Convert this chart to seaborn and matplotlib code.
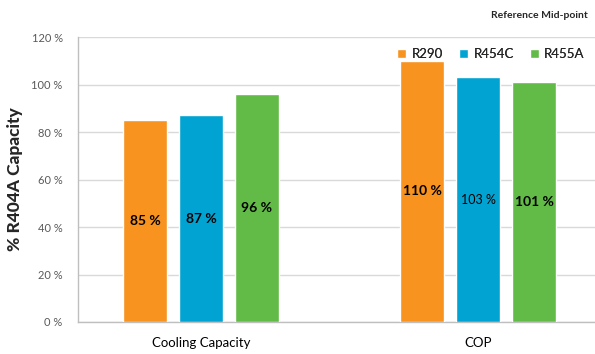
import matplotlib
matplotlib.use("Agg")
import matplotlib.pyplot as plt
import seaborn as sns
import pandas as pd
from matplotlib.ticker import FuncFormatter

categories = ["Cooling Capacity", "COP"]
refrigerants = ["R290", "R454C", "R455A"]
r290 = [85, 110]
r454c = [87, 103]
r455a = [96, 101]
yticks = [0, 20, 40, 60, 80, 100, 120]
colors = ["#F7931E", "#00A3D2", "#62BB46"]

rows = []
for name, vals in zip(refrigerants, [r290, r454c, r455a]):
    for c, v in zip(categories, vals):
        rows.append({"Metric": c, "Refrigerant": name, "Value": v})
df = pd.DataFrame(rows)

sns.set_style("white")
plt.rcParams["font.family"] = ["Lato", "DejaVu Sans"]

fig = plt.figure(figsize=(5.95, 3.54), dpi=100)
ax = fig.add_axes([0.131, 0.0904, 0.869, 0.805])

sns.barplot(data=df, x="Metric", y="Value", hue="Refrigerant", order=categories,
            hue_order=refrigerants, palette=colors, width=0.606, gap=0.21,
            saturation=1, ax=ax, zorder=3)

ax.set_ylim(0, 120)
ax.set_xlim(-0.444, 1.422)
ax.set_yticks(yticks)
ax.yaxis.set_major_formatter(FuncFormatter(lambda v, p: f"{int(v)} %"))
ax.tick_params(axis="y", labelsize=8, colors="#595959", length=0, pad=11)
ax.tick_params(axis="x", labelsize=9.5, colors="black", length=0, pad=11)
ax.grid(axis="y", color="#d9d9d9", linewidth=1, zorder=0)
ax.set_axisbelow(True)
for s in ["top", "right"]:
    ax.spines[s].set_visible(False)
ax.spines["left"].set_color("#bfbfbf")
ax.spines["bottom"].set_color("#bfbfbf")
ax.spines["left"].set_linewidth(1)
ax.spines["bottom"].set_linewidth(1)
ax.set_xlabel("")
ax.set_ylabel("% R404A Capacity", fontsize=12.5, fontweight="black", labelpad=6)

for i, cont in enumerate(ax.containers):
    for bar, v in zip(cont, [r290, r454c, r455a][i]):
        weight = "normal" if (i == 1 and v == 103) else "bold"
        size = 9 if weight == "normal" else 10
        ax.text(bar.get_x() + bar.get_width() / 2, v / 2, f"{v} %",
                ha="center", va="center", fontsize=size, fontweight=weight,
                color="black", zorder=5)

leg = ax.legend(loc="upper right", bbox_to_anchor=(0.99, 0.98), ncol=3, frameon=False,
                fontsize=9.5, handlelength=0.7, handleheight=0.7, handletextpad=0.4,
                columnspacing=1.2, borderaxespad=0)
ax.add_artist(leg)

fig.text(0.988, 0.955, "Reference Mid-point", ha="right", va="center",
         fontsize=7.5, fontweight="bold", color="#262626")

fig.savefig("out.png", dpi=100)
